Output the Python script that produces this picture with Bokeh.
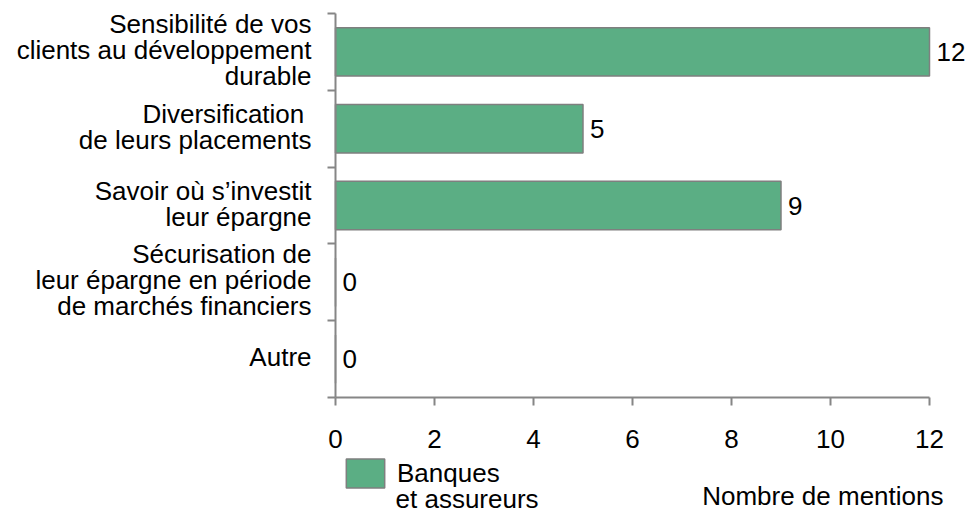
from bokeh.plotting import figure
from bokeh.models import (ColumnDataSource, FixedTicker, LabelSet, Label, Legend,
                          LegendItem, Range1d)
from bokeh.core.properties import value
from bokeh.embed import file_html
from bokeh.resources import INLINE

categories = [
    "Sensibilité de vos\nclients au développement\ndurable",
    "Diversification \nde leurs placements",
    "Savoir où s’investit\nleur épargne",
    "Sécurisation de\nleur épargne en période\nde marchés financiers",
    "Autre",
]
values = [12, 5, 9, 0, 0]
x_ticks = [0, 2, 4, 6, 8, 10, 12]
series_name_lines = ["Banques", "et assureurs"]
x_title = "Nombre de mentions"

n = len(categories)
ypos = [n - i for i in range(n)]  # top to bottom
src = ColumnDataSource(dict(y=ypos, v=values, lab=[str(v) for v in values]))

FONT = "Liberation Sans"
FS = "26px"
AX = "#868686"
LINE_H = 26

# category label lines (one text per line, stacked around the category centre)
cy, cyoff, ctext = [], [], []
for yy, c in zip(ypos, categories):
    lines = c.split("\n")
    k = len(lines)
    for j, ln in enumerate(lines):
        cy.append(yy)
        cyoff.append(((k - 1) / 2 - j) * LINE_H + 2)
        ctext.append(ln)
csrc = ColumnDataSource(dict(y=cy, yoff=cyoff, t=ctext, x=[0] * len(cy)))

p = figure(width=969, height=515, output_backend="svg", toolbar_location=None,
           x_range=Range1d(-6.768, 12.808), y_range=Range1d(-1.036, 5.669),
           min_border_left=0, min_border_right=0, min_border_top=0,
           min_border_bottom=0)
p.outline_line_color = None
p.grid.grid_line_color = None

r = p.hbar(y="y", right="v", left=0, height=0.63, source=src,
           fill_color="#5bae84", line_color="#7f7f7f", line_width=1.5)

# value labels
p.add_layout(LabelSet(x="v", y="y", text="lab", source=src, x_offset=7,
                      text_baseline="middle", text_font=value(FONT),
                      text_font_size=FS, text_color="#000000"))

# category labels
p.add_layout(LabelSet(x="x", y="y", text="t", source=csrc, x_offset=-24,
                      y_offset="yoff", text_align="right",
                      text_baseline="middle", text_font=value(FONT),
                      text_font_size=FS, text_color="#000000"))

# y axis: only boundary ticks, no tick labels
ya = p.yaxis[0]
ya.fixed_location = 0
ya.ticker = FixedTicker(ticks=[], minor_ticks=[i + 0.5 for i in range(n + 1)])
ya.bounds = (0.5, n + 0.5)
ya.major_tick_line_color = None
ya.major_tick_out = 0
ya.major_tick_in = 0
ya.minor_tick_line_color = AX
ya.minor_tick_line_width = 2
ya.minor_tick_out = 8
ya.minor_tick_in = 0
ya.axis_line_color = AX
ya.axis_line_width = 2

# x axis
xa = p.xaxis[0]
xa.ticker = FixedTicker(ticks=x_ticks)
xa.fixed_location = 0.5
xa.bounds = (0, 12)
xa.minor_tick_line_color = None
xa.major_tick_line_color = AX
xa.major_tick_line_width = 2
xa.major_tick_out = 8
xa.major_tick_in = 0
xa.axis_line_color = AX
xa.axis_line_width = 2
xa.major_label_standoff = 24
xa.major_label_text_font = FONT
xa.major_label_text_font_size = FS
xa.major_label_text_color = "#000000"

# x title
p.add_layout(Label(x=12, y=0.5, text=x_title, x_offset=14, y_offset=-98,
                   text_align="right", text_baseline="alphabetic",
                   text_font=FONT, text_font_size=FS, text_color="#000000"))

legend = Legend(items=[LegendItem(label=series_name_lines[0], renderers=[r])],
                location=(341, 24), orientation="vertical", padding=0,
                margin=0, spacing=0,
                label_text_font=FONT, label_text_font_size=FS,
                label_text_color="#000000", glyph_width=48, glyph_height=36,
                label_height=36,
                background_fill_alpha=0, border_line_color=None,
                label_standoff=8)
p.add_layout(legend, "center")

p.add_layout(Label(x=0, y=0.5, text=series_name_lines[1], x_offset=60,
                   y_offset=-101, text_align="left", text_baseline="alphabetic",
                   text_font=FONT, text_font_size=FS, text_color="#000000"))

open("out.html", "w").write(file_html(p, INLINE))
